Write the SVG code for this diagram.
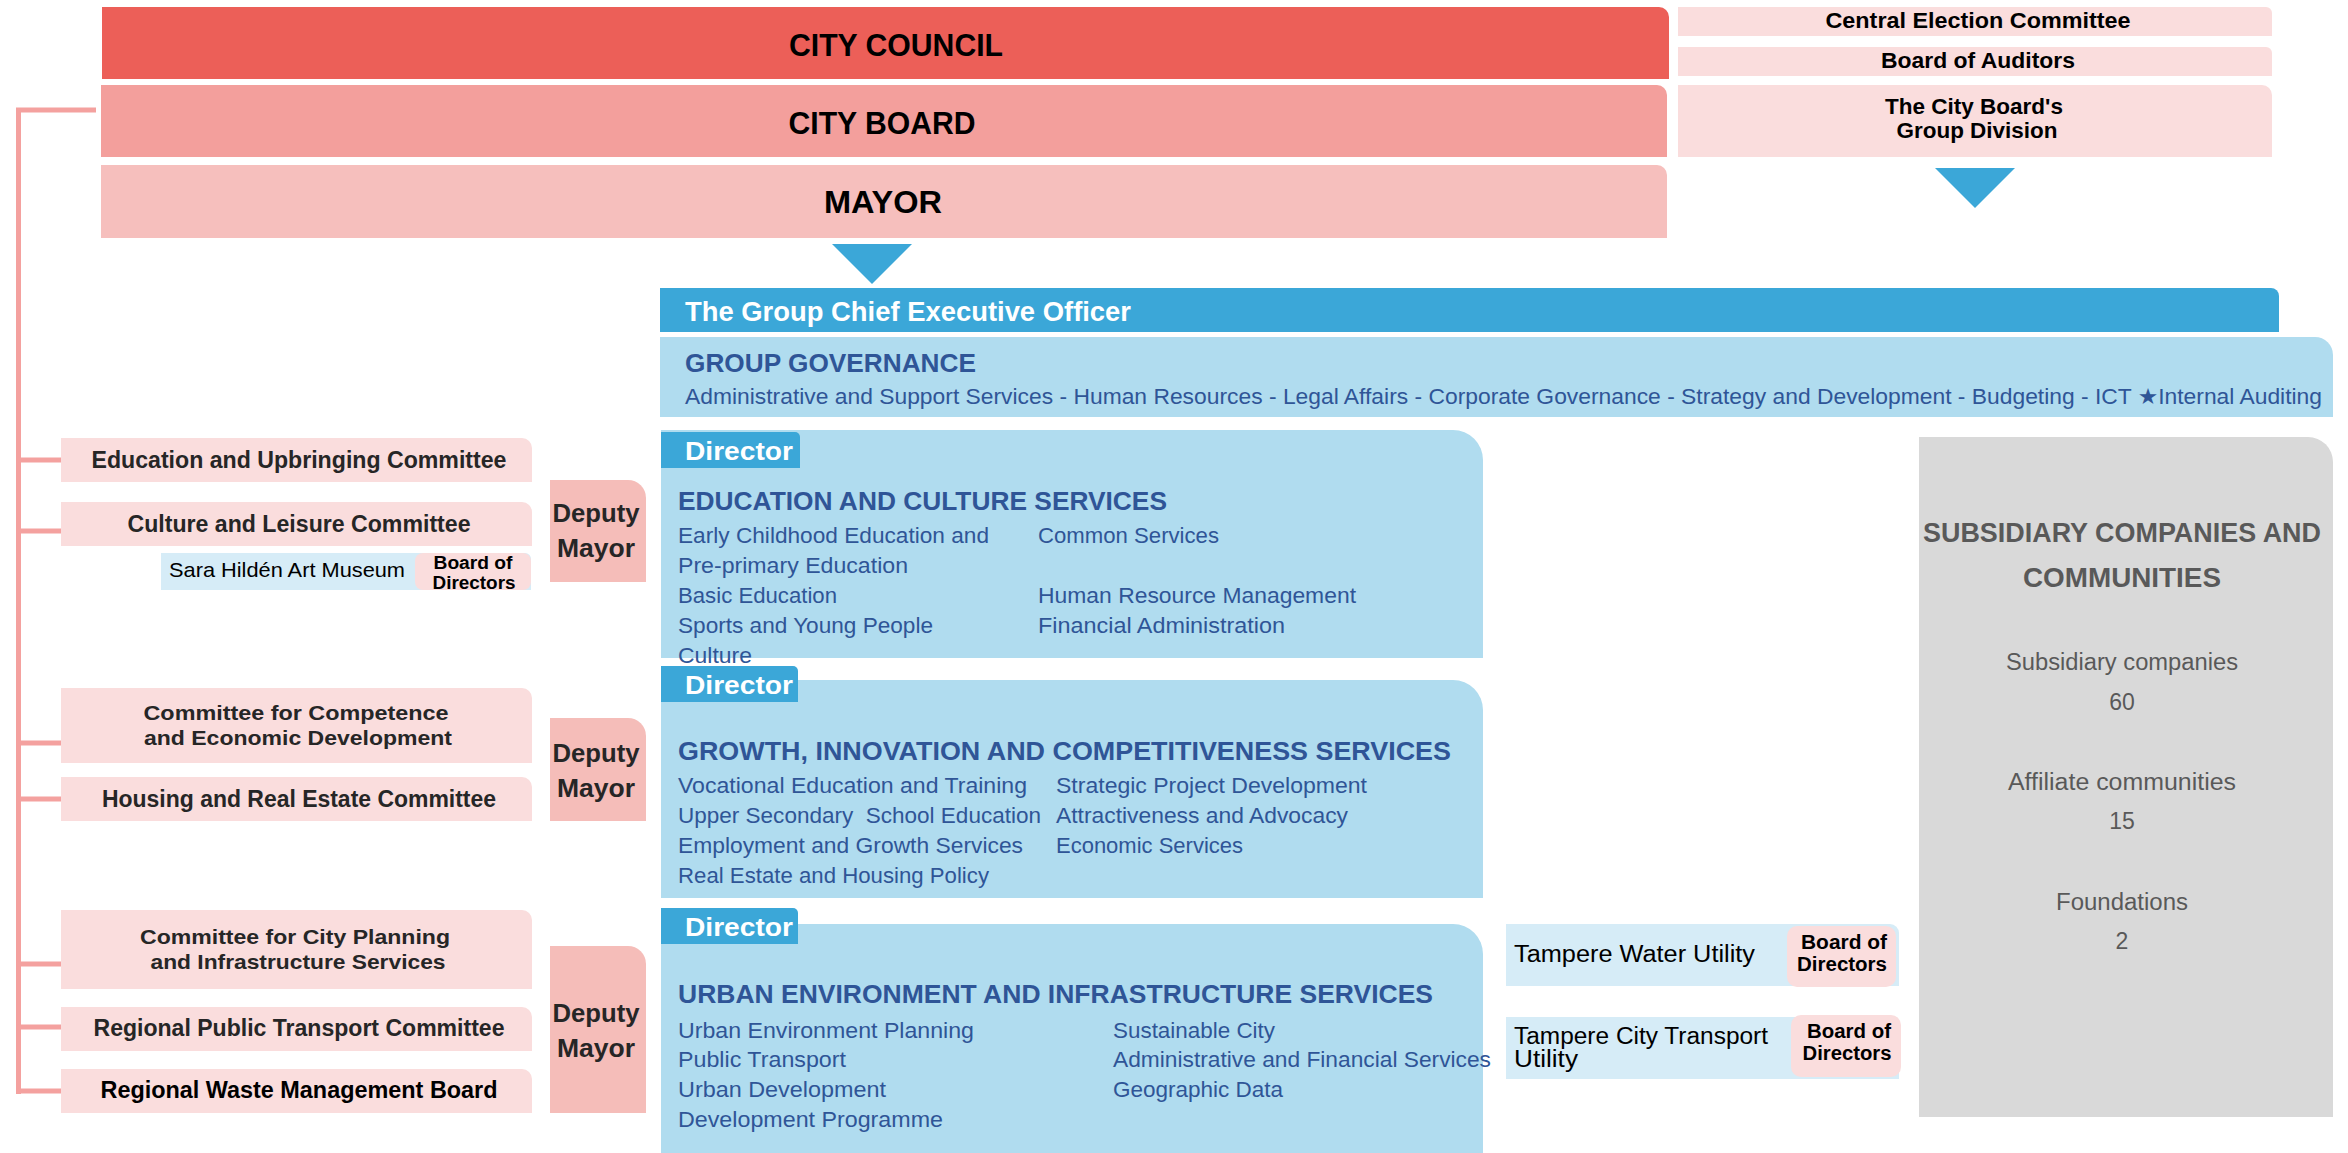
<svg xmlns="http://www.w3.org/2000/svg" width="2348" height="1153" viewBox="0 0 2348 1153">
<style>
text{font-family:"Liberation Sans","DejaVu Sans",Arial,sans-serif}
.b{font-weight:bold}
.c{text-anchor:middle}
.dk{fill:#262626}
.bk{fill:#000}
.w{fill:#fff}
.nv{fill:#2f5597}
.gr{fill:#595959}
.pale{fill:#fadddd}
.dep{fill:#f5bdb9}
.blue{fill:#3ba7d8}
.lblue{fill:#b0dcef}
.ublue{fill:#d6ecf7}
.conn{fill:none;stroke:#f4a19f;stroke-width:5}
</style>
<defs>
<path id="tri" d="M-40 0 H40 L0 40 Z"/>
</defs>

<g id="city-council"><path d="M102 7 H1659 A10 10 0 0 1 1669 17 V79 H102 Z" fill="#ec5f58"/><text class="b bk" x="896" y="56" font-size="31" text-anchor="middle" textLength="214" lengthAdjust="spacingAndGlyphs">CITY COUNCIL</text></g>
<g id="city-board"><path d="M101 85 H1657 A10 10 0 0 1 1667 95 V157 H101 Z" fill="#f39f9c"/><text class="b bk" x="882" y="134" font-size="31" text-anchor="middle" textLength="187" lengthAdjust="spacingAndGlyphs">CITY BOARD</text></g>
<g id="mayor"><path d="M101 165 H1657 A10 10 0 0 1 1667 175 V238 H101 Z" fill="#f6bfbd"/><text class="b bk" x="883" y="213" font-size="31" text-anchor="middle" textLength="118" lengthAdjust="spacingAndGlyphs">MAYOR</text></g>

<g id="central-election"><path class="pale" d="M1678 7 H2266 A6 6 0 0 1 2272 13 V36 H1678 Z"/><text class="b bk c" x="1978" y="28" font-size="22" textLength="305" lengthAdjust="spacingAndGlyphs">Central Election Committee</text></g>
<g id="board-auditors"><path class="pale" d="M1678 47 H2266 A6 6 0 0 1 2272 53 V76 H1678 Z"/><text class="b bk c" x="1978" y="68" font-size="22" textLength="194" lengthAdjust="spacingAndGlyphs">Board of Auditors</text></g>
<g id="group-division"><path class="pale" d="M1678 85 H2262 A10 10 0 0 1 2272 95 V157 H1678 Z"/><text class="b bk c" x="1974" y="114" font-size="22" textLength="178" lengthAdjust="spacingAndGlyphs">The City Board's</text><text class="b bk c" x="1977" y="138" font-size="22" textLength="161" lengthAdjust="spacingAndGlyphs">Group Division</text></g>

<g id="arrows"><use href="#tri" x="872" y="244" class="blue"/><use href="#tri" x="1975" y="168" class="blue"/></g>

<g id="ceo"><path class="blue" d="M660 288 H2271 A8 8 0 0 1 2279 296 V332 H660 Z"/><text class="b w" x="685" y="321" font-size="27" textLength="446" lengthAdjust="spacingAndGlyphs">The Group Chief Executive Officer</text></g>
<g id="group-governance"><path class="lblue" d="M660 337 H2315 A18 18 0 0 1 2333 355 V417 H660 Z"/><text class="b nv" x="685" y="372" font-size="25" textLength="291" lengthAdjust="spacingAndGlyphs">GROUP GOVERNANCE</text><text class="nv" x="685" y="404" font-size="22" textLength="1637" lengthAdjust="spacingAndGlyphs">Administrative and Support Services - Human Resources - Legal Affairs - Corporate Governance - Strategy and Development - Budgeting - ICT ★Internal Auditing</text></g>

<g id="connectors">
<path class="conn" d="M96 110 H18.5 V1094"/>
<path class="conn" d="M18.5 460 H61 M18.5 531 H61 M18.5 743 H61 M18.5 799 H61 M18.5 964 H61 M18.5 1027 H61 M18.5 1091 H61"/>
</g>

<g id="edu-committee"><path class="pale" d="M61 438 H522 A10 10 0 0 1 532 448 V482 H61 Z"/><text class="b dk c" x="299" y="468" font-size="23" textLength="415" lengthAdjust="spacingAndGlyphs">Education and Upbringing Committee</text></g>
<g id="culture-committee"><path class="pale" d="M61 502 H522 A10 10 0 0 1 532 512 V546 H61 Z"/><text class="b dk c" x="299" y="532" font-size="23" textLength="343" lengthAdjust="spacingAndGlyphs">Culture and Leisure Committee</text></g>
<g id="sara-hilden"><path class="ublue" d="M161 553 H525 A6 6 0 0 1 531 559 V590 H161 Z"/><rect class="pale" x="415" y="553" width="116" height="37" rx="8"/><text class="bk" x="169" y="577" font-size="21" textLength="236" lengthAdjust="spacingAndGlyphs">Sara Hildén Art Museum</text><text class="b bk c" x="473" y="569" font-size="18" textLength="79" lengthAdjust="spacingAndGlyphs">Board of</text><text class="b bk c" x="474" y="589" font-size="18" textLength="83" lengthAdjust="spacingAndGlyphs">Directors</text></g>
<g id="deputy-1"><path class="dep" d="M550 480 H628 A18 18 0 0 1 646 498 V582 H550 Z"/><text class="b dk c" x="596" y="522" font-size="25" textLength="87" lengthAdjust="spacingAndGlyphs">Deputy</text><text class="b dk c" x="596" y="557" font-size="25" textLength="78" lengthAdjust="spacingAndGlyphs">Mayor</text></g>

<g id="competence-committee"><path class="pale" d="M61 688 H522 A10 10 0 0 1 532 698 V763 H61 Z"/><text class="b dk c" x="296" y="720" font-size="21" textLength="305" lengthAdjust="spacingAndGlyphs">Committee for Competence</text><text class="b dk c" x="298" y="745" font-size="21" textLength="308" lengthAdjust="spacingAndGlyphs">and Economic Development</text></g>
<g id="housing-committee"><path class="pale" d="M61 777 H522 A10 10 0 0 1 532 787 V821 H61 Z"/><text class="b dk c" x="299" y="807" font-size="23" textLength="394" lengthAdjust="spacingAndGlyphs">Housing and Real Estate Committee</text></g>
<g id="deputy-2"><path class="dep" d="M550 718 H628 A18 18 0 0 1 646 736 V821 H550 Z"/><text class="b dk c" x="596" y="762" font-size="25" textLength="87" lengthAdjust="spacingAndGlyphs">Deputy</text><text class="b dk c" x="596" y="797" font-size="25" textLength="78" lengthAdjust="spacingAndGlyphs">Mayor</text></g>

<g id="planning-committee"><path class="pale" d="M61 910 H522 A10 10 0 0 1 532 920 V989 H61 Z"/><text class="b dk c" x="295" y="944" font-size="21" textLength="310" lengthAdjust="spacingAndGlyphs">Committee for City Planning</text><text class="b dk c" x="298" y="969" font-size="21" textLength="295" lengthAdjust="spacingAndGlyphs">and Infrastructure Services</text></g>
<g id="transport-committee"><path class="pale" d="M61 1007 H522 A10 10 0 0 1 532 1017 V1051 H61 Z"/><text class="b dk c" x="299" y="1036" font-size="23" textLength="411" lengthAdjust="spacingAndGlyphs">Regional Public Transport Committee</text></g>
<g id="waste-board"><path class="pale" d="M61 1069 H522 A10 10 0 0 1 532 1079 V1113 H61 Z"/><text class="b bk c" x="299" y="1098" font-size="23" textLength="397" lengthAdjust="spacingAndGlyphs">Regional Waste Management Board</text></g>
<g id="deputy-3"><path class="dep" d="M550 946 H628 A18 18 0 0 1 646 964 V1113 H550 Z"/><text class="b dk c" x="596" y="1022" font-size="25" textLength="87" lengthAdjust="spacingAndGlyphs">Deputy</text><text class="b dk c" x="596" y="1057" font-size="25" textLength="78" lengthAdjust="spacingAndGlyphs">Mayor</text></g>

<g id="edu-culture-services"><path class="lblue" d="M661 430 H1453 A30 30 0 0 1 1483 460 V658 H661 Z"/>
<path class="blue" d="M661 432 H795 A5 5 0 0 1 800 437 V468 H661 Z"/><text class="b w" x="685" y="460" font-size="26" textLength="108" lengthAdjust="spacingAndGlyphs">Director</text>
<text class="b nv" x="678" y="510" font-size="26" textLength="489" lengthAdjust="spacingAndGlyphs">EDUCATION AND CULTURE SERVICES</text>
<text class="nv" x="678" y="543" font-size="22" textLength="311" lengthAdjust="spacingAndGlyphs">Early Childhood Education and</text>
<text class="nv" x="678" y="573" font-size="22" textLength="230" lengthAdjust="spacingAndGlyphs">Pre-primary Education</text>
<text class="nv" x="678" y="603" font-size="22" textLength="159" lengthAdjust="spacingAndGlyphs">Basic Education</text>
<text class="nv" x="678" y="633" font-size="22" textLength="255" lengthAdjust="spacingAndGlyphs">Sports and Young People</text>
<text class="nv" x="678" y="663" font-size="22" textLength="74" lengthAdjust="spacingAndGlyphs">Culture</text>
<text class="nv" x="1038" y="543" font-size="22" textLength="181" lengthAdjust="spacingAndGlyphs">Common Services</text>
<text class="nv" x="1038" y="603" font-size="22" textLength="318" lengthAdjust="spacingAndGlyphs">Human Resource Management</text>
<text class="nv" x="1038" y="633" font-size="22" textLength="247" lengthAdjust="spacingAndGlyphs">Financial Administration</text>
</g>

<g id="growth-services"><path class="lblue" d="M661 680 H1453 A30 30 0 0 1 1483 710 V898 H661 Z"/>
<path class="blue" d="M661 666 H793 A5 5 0 0 1 798 671 V702 H661 Z"/><text class="b w" x="685" y="694" font-size="26" textLength="108" lengthAdjust="spacingAndGlyphs">Director</text>
<text class="b nv" x="678" y="760" font-size="26" textLength="773" lengthAdjust="spacingAndGlyphs">GROWTH, INNOVATION AND COMPETITIVENESS SERVICES</text>
<text class="nv" x="678" y="793" font-size="22" textLength="349" lengthAdjust="spacingAndGlyphs">Vocational Education and Training</text>
<text class="nv" x="678" y="823" font-size="22" textLength="363" lengthAdjust="spacingAndGlyphs" xml:space="preserve">Upper Secondary  School Education</text>
<text class="nv" x="678" y="853" font-size="22" textLength="345" lengthAdjust="spacingAndGlyphs">Employment and Growth Services</text>
<text class="nv" x="678" y="883" font-size="22" textLength="311" lengthAdjust="spacingAndGlyphs">Real Estate and Housing Policy</text>
<text class="nv" x="1056" y="793" font-size="22" textLength="311" lengthAdjust="spacingAndGlyphs">Strategic Project Development</text>
<text class="nv" x="1056" y="823" font-size="22" textLength="292" lengthAdjust="spacingAndGlyphs">Attractiveness and Advocacy</text>
<text class="nv" x="1056" y="853" font-size="22" textLength="187" lengthAdjust="spacingAndGlyphs">Economic Services</text>
</g>

<g id="urban-services"><path class="lblue" d="M661 924 H1453 A30 30 0 0 1 1483 954 V1153 H661 Z"/>
<path class="blue" d="M661 908 H793 A5 5 0 0 1 798 913 V944 H661 Z"/><text class="b w" x="685" y="936" font-size="26" textLength="108" lengthAdjust="spacingAndGlyphs">Director</text>
<text class="b nv" x="678" y="1003" font-size="26" textLength="755" lengthAdjust="spacingAndGlyphs">URBAN ENVIRONMENT AND INFRASTRUCTURE SERVICES</text>
<text class="nv" x="678" y="1038" font-size="22" textLength="296" lengthAdjust="spacingAndGlyphs">Urban Environment Planning</text>
<text class="nv" x="678" y="1067" font-size="22" textLength="168" lengthAdjust="spacingAndGlyphs">Public Transport</text>
<text class="nv" x="678" y="1097" font-size="22" textLength="208" lengthAdjust="spacingAndGlyphs">Urban Development</text>
<text class="nv" x="678" y="1127" font-size="22" textLength="265" lengthAdjust="spacingAndGlyphs">Development Programme</text>
<text class="nv" x="1113" y="1038" font-size="22" textLength="162" lengthAdjust="spacingAndGlyphs">Sustainable City</text>
<text class="nv" x="1113" y="1067" font-size="22" textLength="378" lengthAdjust="spacingAndGlyphs">Administrative and Financial Services</text>
<text class="nv" x="1113" y="1097" font-size="22" textLength="170" lengthAdjust="spacingAndGlyphs">Geographic Data</text>
</g>

<g id="water-utility"><path class="ublue" d="M1506 924 H1890 A9 9 0 0 1 1899 933 V986 H1506 Z"/><rect class="pale" x="1787" y="926" width="109" height="61" rx="10"/><text class="bk" x="1514" y="962" font-size="23" textLength="241" lengthAdjust="spacingAndGlyphs">Tampere Water Utility</text><text class="b bk c" x="1844" y="949" font-size="20" textLength="86" lengthAdjust="spacingAndGlyphs">Board of</text><text class="b bk c" x="1842" y="971" font-size="20" textLength="90" lengthAdjust="spacingAndGlyphs">Directors</text></g>
<g id="transport-utility"><path class="ublue" d="M1506 1017 H1890 A9 9 0 0 1 1899 1026 V1079 H1506 Z"/><rect class="pale" x="1791" y="1015" width="110" height="62" rx="10"/><text class="bk" x="1514" y="1044" font-size="23" textLength="254" lengthAdjust="spacingAndGlyphs">Tampere City Transport</text><text class="bk" x="1514" y="1067" font-size="23" textLength="64" lengthAdjust="spacingAndGlyphs">Utility</text><text class="b bk c" x="1849" y="1038" font-size="20" textLength="84" lengthAdjust="spacingAndGlyphs">Board of</text><text class="b bk c" x="1847" y="1060" font-size="20" textLength="89" lengthAdjust="spacingAndGlyphs">Directors</text></g>

<g id="subsidiaries"><path d="M1919 437 H2308 A25 25 0 0 1 2333 462 V1117 H1919 Z" fill="#d9d9d9"/>
<text class="b gr c" x="2122" y="542" font-size="27" textLength="398" lengthAdjust="spacingAndGlyphs">SUBSIDIARY COMPANIES AND</text>
<text class="b gr c" x="2122" y="587" font-size="27" textLength="198" lengthAdjust="spacingAndGlyphs">COMMUNITIES</text>
<text class="gr c" x="2122" y="670" font-size="23" textLength="232" lengthAdjust="spacingAndGlyphs">Subsidiary companies</text>
<text class="gr c" x="2122" y="710" font-size="23">60</text>
<text class="gr c" x="2122" y="790" font-size="23" textLength="228" lengthAdjust="spacingAndGlyphs">Affiliate communities</text>
<text class="gr c" x="2122" y="829" font-size="23">15</text>
<text class="gr c" x="2122" y="910" font-size="23" textLength="132" lengthAdjust="spacingAndGlyphs">Foundations</text>
<text class="gr c" x="2122" y="949" font-size="23">2</text>
</g>
</svg>
